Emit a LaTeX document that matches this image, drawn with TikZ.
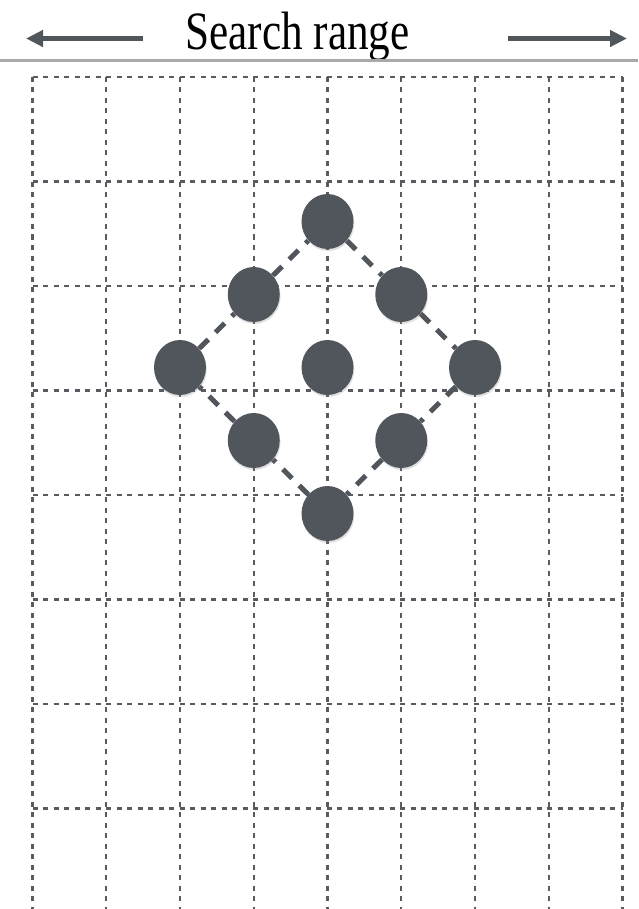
\documentclass[tikz,border=0pt]{standalone}
\usepackage{fontspec}
\setmainfont{Liberation Serif}
\usetikzlibrary{arrows.meta,shapes.geometric,backgrounds,shadows}
\definecolor{dotc}{HTML}{51565D}
\definecolor{gridc}{HTML}{595B60}
\definecolor{rulec}{HTML}{A9A9A9}
\tikzset{
  gridline/.style={line width=2.2pt, draw=gridc, dash pattern=on 5pt off 5.5pt},
  dot/.style={ellipse, fill=dotc, minimum width=52pt, minimum height=55pt, inner sep=0pt,
    drop shadow={shadow xshift=0.8pt, shadow yshift=-2pt, opacity=0.25}},
  link/.style={line width=5pt, draw=dotc, dash pattern=on 13pt off 10pt},
  bigarrow/.style={line width=4.7pt, draw=dotc, -{Triangle[length=17pt,width=16pt]}},
  rule/.style={line width=2.4pt, draw=rulec},
  titletext/.style={font=\fontsize{54}{60}\selectfont, anchor=base, inner sep=0pt, text=black}
}
\begin{document}
\begin{tikzpicture}[x=1pt,y=-1pt]
\useasboundingbox (0,0) rectangle (638,909);
% title and arrows
\node[titletext] (title) at (297.5,49.3) {\scalebox{0.8}[1]{Search range}};
\coordinate (la1) at (142.7,38.5);
\coordinate (la2) at (26,38.5);
\coordinate (ra1) at (508,38.5);
\coordinate (ra2) at (627,38.5);
\draw[bigarrow] (la1) -- (la2);
\draw[bigarrow] (ra1) -- (ra2);
\coordinate (r1) at (0,60.7);
\coordinate (r2) at (638,60.7);
\draw[rule] (r1) -- (r2);
% dots
\node[dot] (t)  at (327.5,221.5) {};
\node[dot] (ul) at (253.75,294.5) {};
\node[dot] (ur) at (401.25,294.5) {};
\node[dot] (l)  at (180,367.5) {};
\node[dot] (c)  at (327.5,367.5) {};
\node[dot] (r)  at (475,367.5) {};
\node[dot] (dl) at (253.75,440.5) {};
\node[dot] (dr) at (401.25,440.5) {};
\node[dot] (b)  at (327.5,513.5) {};
\begin{scope}[on background layer]
  \fill[white] (0,0) rectangle (638,909);
  \foreach \i in {0,...,8}
    \draw[gridline] ({32.5+73.75*\i},77) -- ({32.5+73.75*\i},909);
  \foreach \j in {0,...,7}
    \draw[gridline] (32.5,{77+104.5*\j}) -- (622.5,{77+104.5*\j});
  \draw[link] (t) -- (ur);
  \draw[link] (ur) -- (r);
  \draw[link] (r) -- (dr);
  \draw[link] (dr) -- (b);
  \draw[link] (b) -- (dl);
  \draw[link] (dl) -- (l);
  \draw[link] (l) -- (ul);
  \draw[link] (ul) -- (t);
\end{scope}
\end{tikzpicture}
\end{document}
